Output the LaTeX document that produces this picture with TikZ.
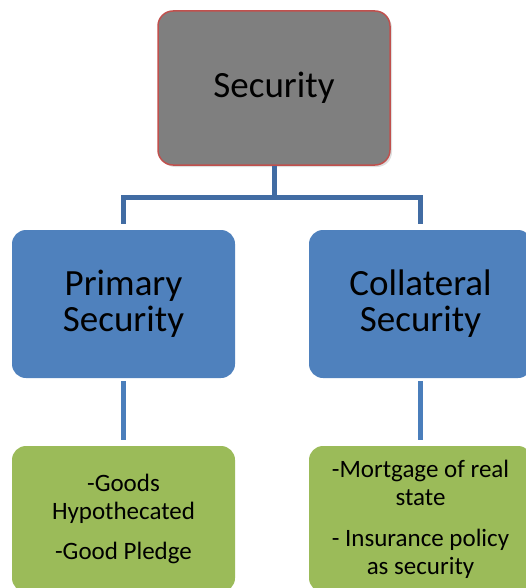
\documentclass[tikz,border=0pt]{standalone}
\usepackage{fontspec}
\setmainfont{Carlito}
\usepackage{tikz}
\usetikzlibrary{shapes, shadows}
\definecolor{rootgray}{HTML}{7F7F7F}
\definecolor{rootred}{HTML}{C0504D}
\definecolor{kindblue}{HTML}{4F81BD}
\definecolor{itemgreen}{HTML}{9BBB59}
\definecolor{linkblue}{HTML}{416CA3}
\definecolor{branchblue}{HTML}{4A7EBB}
\tikzstyle{root} = [rectangle, rounded corners=15pt, minimum width=232pt, minimum height=154pt, text centered, draw=rootred, line width=1.5pt, fill=rootgray, drop shadow={opacity=0.25, shadow xshift=2pt, shadow yshift=-2pt}, font=\fontsize{37}{36}\selectfont]
\tikzstyle{kind} = [rectangle, rounded corners=14pt, minimum width=223pt, minimum height=148pt, align=center, fill=kindblue, font=\fontsize{37}{36}\selectfont]
\tikzstyle{item} = [rectangle, rounded corners=14pt, minimum width=223pt, minimum height=146pt, align=center, fill=itemgreen, font=\fontsize{25}{28}\selectfont]
\tikzstyle{trunk} = [line width=5pt, draw=linkblue, shorten >=6pt]
\tikzstyle{branch} = [line width=5pt, draw=branchblue, shorten <=3pt, shorten >=6pt]

\begin{document}
\begin{tikzpicture}[node distance=216pt]

\useasboundingbox (0,0) rectangle (526pt,-588pt);

% Top
\node (security) [root] at (274pt,-88pt) {Security};

% Second level
\node (primary) [kind, below of=security, xshift=-150.5pt] {Primary\\Security};
\node (collateral) [kind, below of=security, xshift=146.5pt] {Collateral\\Security};

% Third level
\node (primaryitems) [item, below of=primary, yshift=1pt] {-Goods\\Hypothecated\\[12pt]-Good Pledge};
\node (collateralitems) [item, below of=collateral, yshift=1pt] {-Mortgage of real\\state\\[13pt]- Insurance policy\\as security};

\draw [trunk] (security.south) -- ++(0,-31.5pt) -| (primary.north);
\draw [trunk] (security.south) -- ++(0,-31.5pt) -| (collateral.north);
\draw [branch] (primary) -- (primaryitems);
\draw [branch] (collateral) -- (collateralitems);

\end{tikzpicture}
\end{document}
